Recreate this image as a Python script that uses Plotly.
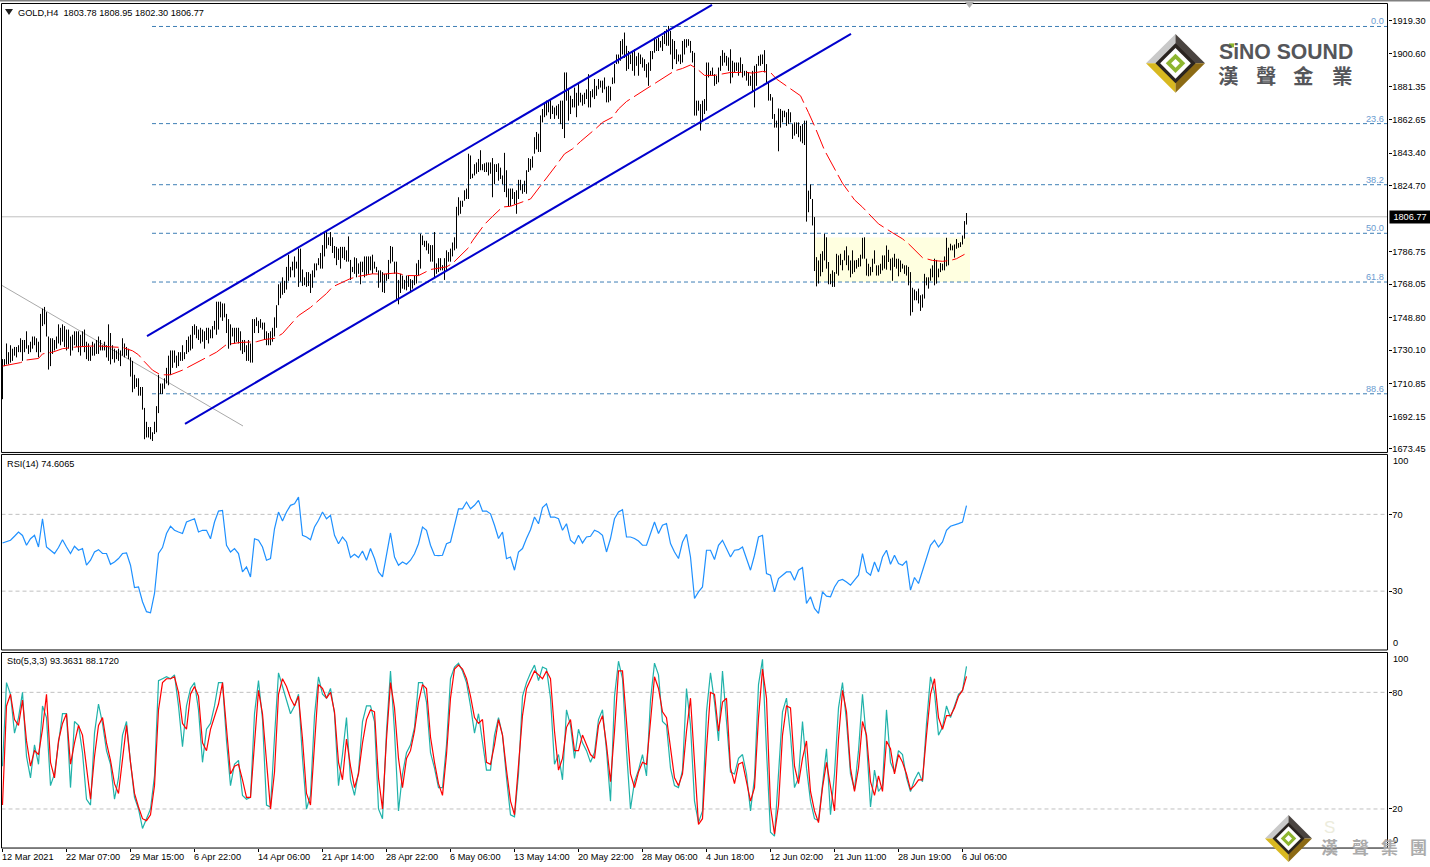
import plotly.graph_objects as go

HIGH = [
1725,1725,1734,1729,1733,1731,1732,1732,1733,1737,
1736,1736,1741,1733,1735,1738,1738,1737,1735,1751,
1754,1755,1752,1738,1737,1737,1736,1738,1745,1743,
1745,1744,1742,1742,1738,1739,1741,1741,1741,1739,
1741,1742,1735,1734,1732,1735,1734,1736,1738,1736,
1733,1735,1733,1745,1740,1733,1731,1730,1731,1730,
1737,1734,1732,1731,1726,1724,1716,1714,1714,1709,
1709,1697,1689,1686,1686,1683,1689,1698,1716,1711,
1711,1714,1720,1727,1730,1730,1730,1727,1729,1729,
1733,1729,1736,1738,1739,1744,1745,1744,1742,1743,
1742,1741,1743,1743,1742,1744,1747,1758,1758,1758,
1757,1757,1751,1748,1745,1743,1743,1743,1743,1741,
1736,1736,1733,1736,1734,1748,1748,1749,1747,1748,
1746,1746,1741,1740,1741,1743,1749,1756,1768,1769,
1772,1770,1778,1785,1778,1781,1784,1781,1788.5,1788.5,
1776.5,1772,1775,1775,1774,1776,1780,1780,1783,1786,
1790.5,1798,1798,1795,1798,1795,1790,1789.5,1788.5,1789.5,
1789.5,1789.5,1787.5,1795.5,1782,1778,1783.5,1783,1780,1781,
1781,1784,1784,1784,1784,1785,1781,1778,1776,1776,
1775,1774,1774,1782,1790,1789.5,1781,1781,1770.5,1774,
1773,1770.5,1773,1773,1771,1770.5,1773,1780,1782,1797,
1796,1793,1793,1791.5,1790.5,1790.5,1798,1780,1783,1783,
1779,1783,1787.5,1786.5,1788.5,1792,1795,1812.5,1818,1816,
1816,1822,1823,1843,1842,1831.5,1837,1838,1840,1845,
1837,1837.5,1838,1838,1838,1840.5,1837,1837,1837.5,1835,
1830.5,1843.5,1833.5,1823,1823,1823,1821,1822,1828,1828,
1825.5,1827.5,1833.5,1840.5,1840,1841.5,1852.5,1855.5,1854.5,1865,
1868.7,1872.5,1873.5,1873.5,1874.4,1870.6,1869.6,1870.6,1871.5,1873.5,
1873.5,1889.7,1889.7,1880,1876.3,1874.4,1881,1878,1883,1878,
1876.9,1878,1880,1888.7,1879,1880,1885.9,1882,1885.9,1885,
1885,1886.8,1881.5,1882,1881.5,1886.8,1894.5,1900,1900,1907.8,
1908.8,1912.6,1905,1902,1900,1902,1903,1899,1901,1900,
1898.3,1897.3,1894.5,1895.4,1902,1902,1909.7,1908.8,1909.7,1907.8,
1910.7,1913.5,1914.5,1916.4,1913.5,1908.8,1907.8,1903,1900,1900,
1907.8,1908.8,1908.8,1908.8,1907.8,1902,1901,1873.5,1873.5,1871.5,
1873.5,1874.4,1895.4,1895.4,1890.6,1892.5,1888.7,1887.8,1892.5,1899.2,
1902.5,1901,1899.2,1898.3,1903,1896.4,1895.4,1895.4,1895.4,1898.3,
1894.5,1890.6,1890.6,1889.7,1887.8,1890.6,1893.5,1894.5,1899.2,1900,
1900,1902.5,1894.5,1884,1877.3,1875.4,1865.8,1862,1869,1868.7,
1867.7,1867.7,1866.8,1868.7,1866.8,1860,1861,1861,1861,1859,
1860,1862,1862,1821.8,1825.3,1817,1806.6,1783.6,1781.7,1785.5,
1787,1797,1795,1780.8,1774,1776,1775,1785.5,1784.6,1785.5,
1782,1787.5,1789.8,1784.6,1781.7,1787.5,1781.7,1782,1783,1785,
1794.7,1795,1782.7,1779.8,1778,1782.7,1787.5,1778.9,1778.9,1779.8,
1784.6,1784.6,1790.3,1787.8,1782.7,1783.3,1785.5,1782.7,1782.7,1781.7,
1779.8,1778.9,1778.9,1778,1775,1766,1765,1764,1765.5,1761.7,
1762.2,1774,1772,1772,1777,1778.9,1782.7,1782,1777,1780.2,
1779.8,1784,1794.7,1789,1791.3,1790.3,1790.9,1794,1791.7,1792.2,
1796,1804.3,1808.95,
]
LOW = [
1702,1721,1722,1722,1723,1724,1727,1726,1729,1729,
1724,1729,1731,1728,1729,1731,1733,1729,1726,1729,
1744,1745,1738,1719,1721,1728,1730,1731,1734,1733,
1735,1732,1730,1731,1727,1730,1733,1732,1729,1727,
1732,1729,1725,1724,1724,1727,1727,1728,1728,1730,
1730,1730,1726,1724,1722,1725,1723,1725,1724,1721,
1727,1726,1727,1725,1715,1706,1708,1709,1704,1704,
1696,1679,1680,1680,1679,1678,1682,1683,1694,1705,
1705,1708,1711,1710,1716,1720,1723,1720,1721,1724,
1724,1725,1728,1729,1730,1731,1739,1737,1736,1734,
1735,1731,1736,1734,1737,1737,1742,1739,1742,1749,
1747,1749,1740,1731,1733,1738,1734,1735,1734,1730,
1728,1729,1724,1724,1723,1723,1740,1744,1740,1743,
1742,1736,1733,1733,1733,1735,1738,1743,1756,1760,
1762,1763,1765,1770,1772,1776,1772,1777,1766.5,1769.5,
1767,1767.5,1766.5,1767,1763,1766,1772,1776,1779,1777,
1777,1784,1788.5,1790.5,1790,1786,1783,1779,1782,1777,
1783,1782,1781,1781,1770.5,1775,1774,1772,1774,1768,
1775,1772,1773,1774,1776,1774,1777,1775,1766,1769,
1763.5,1763,1770,1771,1780,1781,1774,1759,1756.5,1763,
1765.5,1765,1764.5,1766.5,1764,1765.5,1767.5,1768.5,1773,1777,
1790.5,1789.5,1787.5,1785.5,1781,1781,1772,1774,1775,1776,
1776,1770.5,1776,1781,1781,1784,1787.5,1788.5,1807.5,1808.5,
1812.5,1816,1817,1817,1828.5,1829,1830.5,1831.5,1832.5,1833.5,
1833.5,1832.5,1832.5,1830.5,1831.5,1818,1825.5,1832.5,1827.5,1828.5,
1825.5,1821,1818,1812.5,1813,1817,1814,1808.5,1817,1822,
1820,1821,1820,1832.5,1833.5,1835,1843,1845.5,1844,1844,
1861,1864,1865,1866.8,1863,1865.8,1863,1865,1863,1860,
1857.2,1852,1873.5,1862,1865.8,1869.6,1869.6,1864,1870.6,1872.5,
1870.6,1871.5,1874.4,1869.6,1869.6,1875.4,1874.4,1876.3,1880,1881,
1878,1880,1872.5,1872.5,1873.5,1883,1883.4,1894.5,1894.8,1896.4,
1900,1898,1890.6,1891.6,1894.5,1890.6,1887.8,1893.5,1887.8,1894.5,
1892.5,1890.6,1886.8,1882,1890.6,1897.3,1901,1902,1902,1904,
1902,1906,1905,1905,1900,1891.6,1897.3,1894.5,1896,1894.5,
1895.4,1900,1904,1905,1901,1895.4,1864.9,1864.9,1867.7,1856.3,
1862,1865.8,1867.7,1886.8,1887.8,1887.8,1882,1883,1884,1890.6,
1893.5,1895.4,1893.5,1890.6,1883.4,1886.8,1889.7,1890.6,1887.8,1889.7,
1886.8,1887.8,1885,1882,1882,1879,1869.6,1882,1893.5,1893.5,
1894.5,1889.7,1883,1873.5,1873.5,1863,1858,1858,1844.4,1858,
1861,1864,1859,1860,1861,1851.5,1853.4,1854.4,1852.5,1850,
1849,1848,1804,1809.4,1817,1801.8,1775.6,1766.8,1768.4,1772.6,
1775,1781.7,1777,1768,1768,1766.5,1766.5,1774,1773,1779,
1776,1781.7,1779,1776,1772,1774,1775,1777,1778,1778.3,
1782.7,1782.7,1773,1772.6,1773,1775,1779.8,1773,1773,1774,
1776,1777,1776.4,1780.8,1776,1770,1778,1777,1772.6,1775,
1777,1774,1773,1767.4,1750,1752,1758.8,1758.8,1757,1752.7,
1754.6,1759.8,1767.4,1765.5,1770,1772,1767.4,1768.4,1772,1775,
1776,1776,1778.3,1778.9,1787.5,1787.5,1783.3,1788.4,1789,1789.4,
1790.9,1794.2,1802.3,
]
MA_BAR = [0,9,12,18,20,25,30,37,44,49,55,60,65,68,71,75,79,84,90,95,103,107,112,119,127,131,136,140,143,148,
154,162,165,174,178,185,190,197,202,208,214,222,225,233,235,241,245,250,254,257,264,277,281,285,289,297,300,305,308,312,
320,324,332,336,340,344,347,351,356,360,364,372,375,380,384,387,392,395,399,403,406,411,416,418,420,426,430,438,441,445,
450,453,460,462,465,470,474,477,481]
MA_VALUE = [1721,1723,1724.5,1725.4,1728,1729,1731,1732,1732.5,1732.5,1732,1731.7,1729.8,1727.5,1723.5,1718.7,1716,1716,1718.7,1721.6,1726.4,1729,1733.4,1734.6,1735,1736.3,1736.9,1739.7,1743.6,1750,
1754.7,1762.7,1766.5,1771.3,1772.6,1774,1773.8,1774.5,1773,1773,1776.5,1778,1780,1789,1793,1802.4,1807,1812.4,1812.8,1814,1817,1836.6,1842.9,1845.8,1850,1857.8,1861,1864,1868.7,1873,
1879,1881.5,1888,1890.6,1892,1894,1892,1888,1888,1888.7,1889.7,1889.7,1889.3,1890.3,1889.7,1885.9,1881.7,1879.6,1876.3,1866.6,1859,1845,1834,1830.4,1826,1816.5,1812.3,1802.7,1800.4,1797.6,
1794.1,1791.3,1783.3,1782.7,1781.7,1781.2,1781.7,1782.7,1785.2]
RSI = [
55.1,55.6,56.5,58.6,60.8,59,53.9,57.3,59.1,53,67.7,53,51.3,49.6,52.7,56.8,53,49.6,53.4,51.3,
52.2,43.5,46.1,50.4,51.6,49.6,49.6,44,45.2,47,49.6,49.9,43.5,31.9,32.2,24.5,19.3,18.7,28.8,49.6,
52.7,60,63.8,61.7,60.8,60,66,66.9,67.7,60.8,61.7,61.7,57.3,66,71.7,72,53.9,50.4,52.2,49.6,
40,42.6,37.4,57.3,56.5,53,46.1,47,62.5,71.2,66.5,71.2,74.7,75.5,79,59.1,58.2,56.8,63.4,66.9,
71.2,67.7,69.5,59.1,54.7,58.2,55.6,47.5,49.2,47.5,50.9,46.1,52.2,47,40,37.4,48.7,60.3,47.8,43.5,
45.2,44,46.1,49.5,54.7,63.4,61.7,53.9,48.7,48.5,48.7,54.7,55.6,65.1,72.9,72.9,76.4,72.9,74.7,77.3,
71.7,71.7,70.3,64.3,57.4,60.8,46.9,47.8,40.9,50.4,52.2,57.4,62,68.6,65.1,73.5,75.5,68.6,68.6,67.7,
61.7,65.1,56.5,54.7,59.1,55.1,58.2,58.6,61.7,60.8,59.1,50.4,57.4,67.7,71.2,72.4,58.2,58.2,57.4,56.1,
53.9,53.9,60,66,60,64.3,65.2,54.8,50.4,47,55.6,59.6,47.8,26.2,29.6,32.2,51.3,51.3,46.5,53.9,
56.5,52.2,47.8,51.3,51.6,53,47,40.9,48.7,58.2,59.1,39.2,38.3,29.6,36.6,38.3,40,40,35.7,40.9,
42.3,23.6,27.1,21,18.4,29.6,27.4,27.1,32.2,35.4,36.1,34.8,33.1,35.7,38.3,49.6,40,38.3,45.2,40,
47.8,51.3,44,48.7,44.4,43.5,45.8,30.5,37.1,34,40.9,47.8,53.9,56.5,53,55.6,61.7,63.8,64.3,65.2,
66,74.6,
]
STO_MAIN = [
42,85,79,59,67,80,47,36,53,43,73,67,32,38,54,69,69,31,65,63,
49,25,22,59,74,64,50,43,25,36,58,65,44,26,20,10,15,20,37,86,
87,88,87,89,73,52,73,82,85,71,44,61,64,73,85,85,55,32,43,45,
27,25,26,69,86,66,22,21,57,90,83,76,69,73,79,
46,20,27,68,88,79,77,82,69,32,48,67,35,27,39,65,73,73,65,20,
15,60,91,60,19,38,49,53,62,85,85,75,49,41,31,31,53,87,93,95,
91,85,73,59,69,53,40,40,58,67,58,36,17,16,38,78,85,90,94,86,
93,92,77,43,48,35,71,63,46,61,54,50,44,49,66,71,50,24,78,96,
87,50,20,34,
40,48,37,76,95,89,65,63,41,32,31,40,82,63,24,13,19,70,90,75,
55,91,63,39,38,46,48,38,19,36,84,97,50,8,6,41,70,77,58,31,
36,65,41,24,15,14,31,51,17,38,72,85,65,38,30,50,79,55,21,40,
29,32,71,44,39,50,48,36,29,35,39,34,64,88,80,58,62,73,67,73,
79,81,93.4,
]
STO_SIGNAL = [
22,73,79,66,63,76,55,42,50,48,61,79,44,36,55,64,69,43,54,63,
58,41,25,47,63,67,54,45,33,28,47,63,44,28,21,15,14,17,32,71,
85,87,87,88,80,64,61,79,83,78,54,50,61,67,74,85,61,38,42,43,
35,26,26,55,81,69,42,20,39,79,87,83,77,73,78,
56,28,22,53,84,82,77,80,70,44,35,56,42,31,38,54,66,71,70,36,
20,56,85,72,46,31,46,50,60,75,84,82,57,44,33,27,48,77,92,94,
92,87,78,67,64,66,44,43,53,66,58,40,24,17,44,68,82,87,91,89,
87,91,87,60,40,46,62,66,50,50,58,53,48,46,63,68,53,34,60,91,
91,65,38,31,
39,44,43,65,88,82,70,67,51,36,32,38,60,77,44,12,15,51,80,79,
60,75,77,41,33,43,44,34,24,31,67,92,77,21,7,22,58,73,72,42,
33,46,55,29,19,13,31,44,31,19,56,81,70,41,29,41,65,58,34,27,
37,29,55,51,38,48,44,38,30,32,35,35,58,79,87,67,61,68,68,72,
78,81,88.2,
]
PRICE_TICKS = [1919.30,1900.60,1881.35,1862.65,1843.40,1824.70,1786.75,1768.05,1748.80,1730.10,1710.85,1692.15,1673.45]
TIME_BARS = [0,32,64,96,128,160,192,224,256,288,320,352,384,416,448,480]
TIME_LABELS = ["12 Mar 2021","22 Mar 07:00","29 Mar 15:00","6 Apr 22:00","14 Apr 06:00","21 Apr 14:00","28 Apr 22:00","6 May 06:00","13 May 14:00","20 May 22:00","28 May 06:00","4 Jun 18:00","12 Jun 02:00","21 Jun 11:00","28 Jun 19:00","6 Jul 06:00"]
FIB_LEVELS = ["0.0","23.6","38.2","50.0","61.8","88.6"]
FIB_PRICES = [1916.1,1860.3,1825.2,1797.3,1769.3,1705.1]
LAST_PRICE = 1806.77
CHANNEL_UPPER_X = [72.25,354.75]
CHANNEL_UPPER_Y = [1738.2,1928.5]
CHANNEL_LOWER_X = [91.25,424.25]
CHANNEL_LOWER_Y = [1687.8,1911.85]
DOWNTREND_X = [-1.25,120.25]
DOWNTREND_Y = [1768,1686.6]

if len(HIGH) != len(LOW):
    raise SystemExit(f"bars {len(HIGH)} {len(LOW)}")

W, H = 1430, 867
FONT = "Liberation Sans"
def px(x): return x / W
def py(y): return 1 - y / H

bar_x, bar_y = [], []
for i, (h, l) in enumerate(zip(HIGH, LOW)):
    bar_x += [i, i, None]
    bar_y += [l, h, None]
ind_x = [2 * j for j in range(len(RSI))]

fig = go.Figure()
def line(x, y, color, width=1, dash=None, axis="y"):
    fig.add_trace(go.Scatter(x=x, y=y, mode="lines", yaxis=axis, xaxis="x", showlegend=False, hoverinfo="skip",
                             connectgaps=False, line=dict(color=color, width=width, dash=dash)))

for p in FIB_PRICES:
    line([74.75, 692.5], [p, p], "#3E7FB5", 1, "4px,3px")
line([-0.5, 692.5], [LAST_PRICE, LAST_PRICE], "#C0C0C0", 1)
line(DOWNTREND_X, DOWNTREND_Y, "#A9A9A9", 1)
line(bar_x, bar_y, "#000000", 1)
line(MA_BAR, MA_VALUE, "#FF0000", 1, "20px,5px")
line(CHANNEL_UPPER_X, CHANNEL_UPPER_Y, "#0000CD", 2)
line(CHANNEL_LOWER_X, CHANNEL_LOWER_Y, "#0000CD", 2)
line(ind_x, RSI, "#1E90FF", 1.2, None, "y2")
line(ind_x, STO_MAIN, "#20B2AA", 1.2, None, "y3")
line(ind_x, STO_SIGNAL, "#FF0000", 1.2, None, "y3")

shapes = []
shapes.append(dict(type="rect", xref="x", yref="y", x0=406.25, x1=483.75, y0=1769.3, y1=1794.9,
                   fillcolor="#FFFFE0", line=dict(width=0), layer="below"))
for axis, levels in (("y2", (70, 30)), ("y3", (80, 20))):
    for v in levels:
        shapes.append(dict(type="line", xref="x domain", yref=axis, x0=0, x1=1, y0=v, y1=v, layer="below",
                           line=dict(color="#C0C0C0", width=1, dash="4px,3px")))
for top, bot in ((3.5, 453.5), (455.5, 651.5), (654, 850)):
    shapes.append(dict(type="rect", xref="paper", yref="paper", x0=px(1.5), x1=px(1387.5), y0=py(bot), y1=py(top),
                       line=dict(color="#000000", width=1), fillcolor="rgba(0,0,0,0)"))
shapes.append(dict(type="rect", xref="paper", yref="paper", x0=0, x1=1, y0=py(1.5), y1=1,
                   fillcolor="#808080", line=dict(width=0)))
shapes.append(dict(type="path", xref="paper", yref="paper", fillcolor="#B0B0B0", line=dict(width=0),
                   path=f"M {px(965)} {py(2)} L {px(974)} {py(2)} L {px(969.5)} {py(8)} Z"))
shapes.append(dict(type="path", xref="paper", yref="paper", fillcolor="#202020", line=dict(width=0),
                   path=f"M {px(5)} {py(9)} L {px(13)} {py(9)} L {px(9)} {py(15)} Z"))

def poly(points, color):
    d = " ".join(("M" if k == 0 else "L") + f" {px(a)} {py(b)}" for k, (a, b) in enumerate(points)) + " Z"
    shapes.append(dict(type="path", xref="paper", yref="paper", path=d, fillcolor=color, line=dict(width=0)))

def logo(cx, cy, r):
    t, l, b, rr = (cx, cy - r), (cx - r, cy), (cx, cy + r), (cx + r, cy)
    c = (cx, cy)
    poly([l, t, c], "#C9C9C9")
    poly([t, rr, c], "#4A4440")
    poly([l, b, c], "#D8B820")
    poly([rr, b, c], "#8C6A14")
    def dia(q, color):
        q = r * q
        poly([(cx - q, cy), (cx, cy - q), (cx + q, cy), (cx, cy + q)], color)
    dia(0.68, "#2A2420")
    dia(0.52, "#FFFFFF")
    dia(0.33, "#8DB52F")
    dia(0.15, "#FFFFFF")

logo(1175.5, 63.5, 29.5)
logo(1288.5, 840.5, 23.5)
shapes.append(dict(type="rect", xref="paper", yref="paper", x0=px(1229), x1=px(1234), y0=py(47.5), y1=py(43.5),
                   fillcolor="#8DB52F", line=dict(width=0)))

ann = []
def text(x, y, s, size=9.2, color="#000000", anchor="left", family=FONT):
    ann.append(dict(xref="paper", yref="paper", x=px(x), y=py(y + 1), text=s, showarrow=False, xanchor=anchor,
                    yanchor="middle", borderpad=0, font=dict(family=family, size=size, color=color)))

text(17, 12, "GOLD,H4  1803.78 1808.95 1802.30 1806.77")
text(6, 464, "RSI(14) 74.6065")
text(6, 662, "Sto(5,3,3) 93.3631 88.1720")
text(1392, 461.5, "100"); text(1392, 643.5, "0")
text(1392, 659.5, "100"); text(1392, 841, "0")
for lab, p in zip(FIB_LEVELS, FIB_PRICES):
    ann.append(dict(xref="paper", yref="y", x=px(1386), y=p, yshift=5, text=lab, showarrow=False, xanchor="right",
                    yanchor="middle", font=dict(family=FONT, size=9.2, color="#6A9BD0")))
ann.append(dict(xref="paper", yref="y", x=px(1389), y=LAST_PRICE, text="1806.77", showarrow=False, xanchor="left",
                yanchor="middle", bgcolor="#000000", borderpad=1, width=38, align="center",
                font=dict(family=FONT, size=9.2, color="#FFFFFF")))
text(1217.5, 50.5, "<b>SiNO SOUND</b>", 21.2, "#55565A")
for ch, x in zip("漢聲金業", (1228, 1266, 1303, 1342)):
    text(x, 74, f"<b>{ch}</b>", 20.5, "#55565A", "center", "Noto Sans CJK TC")
for ch, x in zip("漢聲集團", (1329, 1360, 1389, 1418)):
    text(x, 847.5, f"<b>{ch}</b>", 17, "#ABABAB", "center", "Noto Sans CJK TC")
text(1323, 828, "S", 17, "#ECECDC")

tickfont = dict(family=FONT, size=9.2, color="#000000")
yax = dict(side="right", anchor="x", showgrid=False, zeroline=False, showline=False, ticks="outside", ticklen=3,
           tickwidth=1, tickcolor="#000000", tickfont=tickfont, fixedrange=True, ticklabelstandoff=-1)
fig.update_layout(
    width=W, height=H, autosize=False, margin=dict(l=0, r=0, t=0, b=0, pad=0),
    paper_bgcolor="#FFFFFF", plot_bgcolor="#FFFFFF", hovermode=False, showlegend=False,
    xaxis=dict(domain=[px(1.5), px(1387.5)], range=[-0.5, 692.5], anchor="y3", showgrid=False, zeroline=False,
               showline=False, ticks="outside", ticklen=3, tickcolor="#000000", tickvals=TIME_BARS, ticktext=TIME_LABELS,
               ticklabelposition="outside right", ticklabelshift=-1, tickangle=0, tickfont=tickfont, fixedrange=True),
    yaxis=dict(domain=[py(453.5), py(3.5)], range=[1671.4, 1929.3], tickvals=PRICE_TICKS,
               ticktext=[f"{v:.2f}" for v in PRICE_TICKS], **yax),
    yaxis2=dict(domain=[py(651.5), py(455.5)], range=[-0.65, 101.2], tickvals=[70, 30], **yax),
    yaxis3=dict(domain=[py(850), py(654)], range=[-0.1, 100.5], tickvals=[80, 20], **yax),
    shapes=shapes, annotations=ann,
)
fig.write_html("out.html", config=dict(displayModeBar=False, responsive=False),
               post_script="document.body.style.margin='0';document.body.style.overflow='hidden';")
